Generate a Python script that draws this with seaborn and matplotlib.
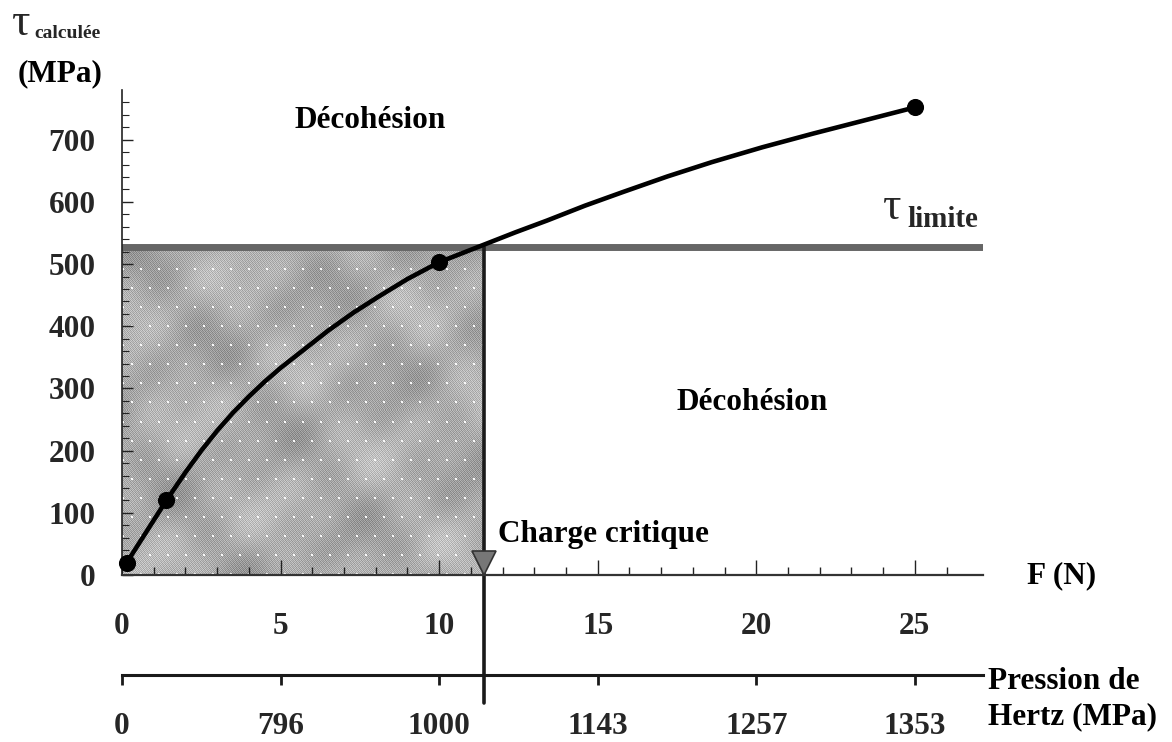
import numpy as np
import pandas as pd
import matplotlib
matplotlib.use("Agg")
import matplotlib.pyplot as plt
import seaborn as sns

# Calculated shear stress versus applied load (fitted curve) and measured points
force_curve = [0.15, 0.8, 1.4, 2.0, 2.5, 3.0, 3.5, 4.0, 4.5, 5.0, 5.6, 6.1, 6.5,
               7.3, 8.1, 9.0, 10.0, 10.7, 11.4, 12.4, 13.4, 14.6, 15.8, 17.2,
               18.6, 20.2, 21.8, 23.4, 25.0]
tau_curve = [20, 72, 120, 165, 200, 232, 261, 287, 311, 333, 357, 377, 393,
             422, 448, 476, 503, 517, 531, 551, 570, 594, 616, 641,
             664, 688, 710, 731, 752]
force_pts = [0.15, 1.4, 10.0, 25.0]
tau_pts = [20, 120, 503, 752]

tau_limite = 527        # MPa
charge_critique = 11.4  # N

f_ticks = [0, 5, 10, 15, 20, 25]
hertz_labels = ["0", "796", "1000", "1143", "1257", "1353"]
tau_ticks = [0, 100, 200, 300, 400, 500, 600, 700]

x_max, y_max = 27.15, 780

sns.set_theme(style="white")
plt.rcParams["font.family"] = ["Liberation Serif", "DejaVu Serif"]
plt.rcParams["font.weight"] = "bold"

W, H = 1172, 742
fig = plt.figure(figsize=(W / 100, H / 100), dpi=100)
fig.patch.set_facecolor("white")


def fpos(x, y):
    return x / W, 1 - y / H


ax = fig.add_axes([122 / W, 1 - 575 / H, (983 - 122) / W, (575 - 90) / H])
ax.set_facecolor("white")
ax.set_xlim(0, x_max)
ax.set_ylim(0, y_max)

# Grainy, mottled grey zone below the shear limit and left of the critical load,
# sprinkled with small light dots
ny, nx = 327, 362
gy, gx = np.mgrid[0:1:ny * 1j, 0:1:nx * 1j]
mottle = (np.sin(2 * np.pi * (2.3 * gx + 1.7 * gy))
          + np.sin(2 * np.pi * (1.4 * gx - 2.6 * gy) + 1.3)
          + 0.6 * np.sin(2 * np.pi * (4.1 * gx + 3.3 * gy) + 2.1)
          + 0.5 * np.sin(2 * np.pi * (5.2 * gx - 4.4 * gy) + 0.4)) / 3.1
ii, jj = np.indices(mottle.shape)
grain = np.where((ii + jj) % 2 == 0, 1.0, -1.0)
grain2 = np.where((ii // 2 + jj) % 3 == 0, 1.0, 0.0)
grey = 0.69 + 0.10 * mottle + 0.07 * grain - 0.05 * grain2
row_off = (ii // 19) % 2 * 9
dots = ((ii % 19) < 2) & (((jj + row_off) % 18) < 2)
grey = np.where(dots, 0.97, grey)
ax.imshow(np.clip(grey, 0, 1), extent=[0, charge_critique, 0, tau_limite],
          origin="lower", aspect="auto", cmap="gray", vmin=0, vmax=1,
          interpolation="nearest", zorder=0)

# Shear limit line and critical load line
ax.axhline(tau_limite, color="#666666", lw=5, zorder=1)
ax.plot([charge_critique, charge_critique], [tau_limite / y_max, -0.264],
        transform=ax.get_xaxis_transform(), color="#1a1a1a", lw=2.6,
        clip_on=False, zorder=2)
ax.plot([charge_critique], [19], marker="v", markersize=17, color="#777777",
        markeredgecolor="#333333", markeredgewidth=1.2, zorder=3, clip_on=False)

curve = pd.DataFrame({"F": force_curve, "tau": tau_curve})
pts = pd.DataFrame({"F": force_pts, "tau": tau_pts})
sns.lineplot(data=curve, x="F", y="tau", color="black", lw=3.3, sort=False,
             ax=ax, zorder=4)
sns.scatterplot(data=pts, x="F", y="tau", color="black", s=130, edgecolor="black",
                ax=ax, zorder=5, clip_on=False)

# Axes styling
for s in ["top", "right"]:
    ax.spines[s].set_visible(False)
ax.spines["left"].set_color("#222222")
ax.spines["left"].set_linewidth(1.2)
ax.spines["bottom"].set_color("#333333")
ax.spines["bottom"].set_linewidth(1.6)

ax.set_xticks(f_ticks)
ax.set_xticks(np.arange(0, 27, 1), minor=True)
ax.set_yticks(tau_ticks)
ax.set_yticks(np.arange(0, 780, 20), minor=True)
ax.set_xticklabels([str(v) for v in f_ticks])
ax.set_yticklabels([str(v) for v in tau_ticks])
ax.tick_params(axis="x", which="major", direction="in", length=11, width=1,
               color="#222222", pad=27, labelsize=22.5, bottom=True)
ax.tick_params(axis="x", which="minor", direction="in", length=6, width=1,
               color="#222222", bottom=True)
ax.tick_params(axis="y", which="major", direction="in", length=8, width=1,
               color="#222222", pad=19, labelsize=22.5, left=True)
ax.tick_params(axis="y", which="minor", direction="in", length=5, width=0.8,
               color="#222222", left=True)
for lab in ax.get_xticklabels() + ax.get_yticklabels():
    lab.set_fontweight("bold")
ax.set_xlabel("")
ax.set_ylabel("")

# Second scale: Hertz contact pressure
sec = ax.secondary_xaxis(-0.206)
sec.set_xticks(f_ticks)
sec.set_xticklabels(hertz_labels)
sec.spines["bottom"].set_linewidth(2.2)
sec.spines["bottom"].set_color("#1a1a1a")
sec.tick_params(axis="x", direction="out", length=7, width=2, color="#1a1a1a",
                pad=20, labelsize=22.5)
for lab in sec.get_xticklabels():
    lab.set_fontweight("bold")

# Annotations
txt = dict(fontsize=22.5, fontweight="bold", color="black")
ax.text(7.82, 731, "Décohésion", ha="center", va="center", **txt)
ax.text(19.87, 277, "Décohésion", ha="center", va="center", **txt)
ax.text(11.86, 65, "Charge critique", ha="left", va="center", **txt)
ax.text(24.0, 573, "τ", ha="left", va="baseline", fontsize=33, fontweight="normal")
ax.text(24.75, 560, "limite", ha="left", va="baseline", fontsize=21, fontweight="bold")

fig.text(*fpos(1062, 576), "F (N)", ha="center", va="center", **txt)
fig.text(*fpos(988, 699), "Pression de\nHertz (MPa)", ha="left", va="center",
         linespacing=1.3, **txt)
fig.text(*fpos(12, 35), "τ", ha="left", va="baseline", fontsize=33, fontweight="normal")
fig.text(*fpos(34, 38), "calculée", ha="left", va="baseline", fontsize=14,
         fontweight="bold")
fig.text(*fpos(60, 74), "(MPa)", ha="center", va="center", **txt)

fig.savefig("out.png", dpi=100, facecolor="white")
